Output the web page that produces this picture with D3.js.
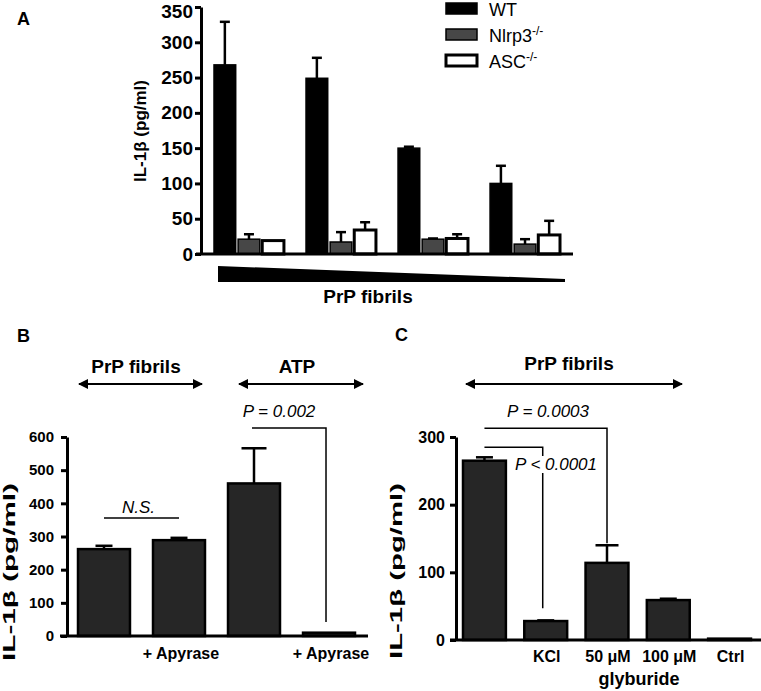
<!DOCTYPE html>
<html>
<head>
<meta charset="utf-8">
<script src="https://cdn.jsdelivr.net/npm/d3@7"></script>
<style>
  body { margin: 0; background: #fff; }
  svg { display: block; font-family: "Liberation Sans", Arial, sans-serif; }
</style>
</head>
<body>
<div id="chart"></div>
<script>
// ---- panel A: IL-1b by PrP fibril dose and genotype ----
const doses = ["d1", "d2", "d3", "d4"];
const genotypes = ["WT", "Nlrp3", "ASC"];
const wtMean = [268, 249, 150, 100];
const wtSem = [61, 29, 2, 25];
const nlrp3Mean = [21, 17, 21, 14];
const nlrp3Sem = [7, 14, 1, 7];
const ascMean = [19, 34, 22, 27];
const ascSem = [0, 11, 6, 20];
const ticksA = [0, 50, 100, 150, 200, 250, 300, 350];

// ---- panel B: apyrase ----
const labelsB = ["", "+ Apyrase", "", "+ Apyrase"];
const meanB = [262, 289, 460, 10];
const semB = [10, 7, 106, 0];
const ticksB = [0, 100, 200, 300, 400, 500, 600];

// ---- panel C: KCl / glyburide ----
const labelsC = ["", "KCl", "50 \u03bcM", "100 \u03bcM", "Ctrl"];
const meanC = [265, 28, 114, 59, 2];
const semC = [5, 1, 26, 2, 0];
const ticksC = [0, 100, 200, 300];

const svg = d3.select("#chart")
  .append("svg")
    .attr("width", 761)
    .attr("height", 691);

// arrowhead used by the "PrP fibrils" / "ATP" ranges
const defs = svg.append("defs");
defs.append("marker")
    .attr("id", "head")
    .attr("viewBox", "0 0 10 10")
    .attr("refX", 9).attr("refY", 5)
    .attr("markerWidth", 6).attr("markerHeight", 5)
    .attr("markerUnits", "strokeWidth")
    .attr("orient", "auto-start-reverse")
  .append("path")
    .attr("d", "M0,0 L10,5 L0,10 Z")
    .attr("fill", "#000");

const drawYAxis = (x, scale, ticks, size, pad) => {
  const g = svg.append("g")
      .attr("transform", `translate(${x},0)`)
      .call(d3.axisLeft(scale).tickValues(ticks).tickSize(6).tickSizeOuter(0).tickPadding(pad));
  g.select(".domain").attr("stroke", "#000").attr("stroke-width", 3);
  g.selectAll(".tick line").attr("stroke", "#000").attr("stroke-width", 3);
  g.selectAll(".tick text")
      .attr("fill", "#000")
      .style("font-size", size + "px")
      .style("font-weight", "bold");
  return g;
};

// rotated y label; len stretches the glyphs along the text (panels B, C are taller)
const yLabel = (x, y, len) => {
  const t = svg.append("text")
      .attr("text-anchor", "middle")
      .style("font-size", "17px")
      .style("font-weight", "bold")
      .text("IL-1\u03b2 (pg/ml)");
  const k = len ? len / t.node().getComputedTextLength() : 1;
  t.attr("transform", `translate(${x},${y}) rotate(-90) scale(${k},1)`);
  return t;
};

const boldText = (x, y, s, size, anchor = "middle") =>
  svg.append("text")
      .attr("x", x).attr("y", y)
      .attr("text-anchor", anchor)
      .style("font-size", size + "px")
      .style("font-weight", "bold")
      .text(s);

const italicText = (x, y, s) =>
  svg.append("text")
      .attr("x", x).attr("y", y)
      .attr("text-anchor", "middle")
      .style("font-size", "17px")
      .style("font-style", "italic")
      .text(s);

const rangeArrow = (x1, x2, y) =>
  svg.append("line")
      .attr("x1", x1).attr("x2", x2)
      .attr("y1", y).attr("y2", y)
      .attr("stroke", "#000")
      .attr("stroke-width", 2)
      .attr("marker-start", "url(#head)")
      .attr("marker-end", "url(#head)");

const errorBars = (sel, cap) => {
  sel.append("line")
      .attr("x1", d => d.cx).attr("x2", d => d.cx)
      .attr("y1", d => d.y(d.mean)).attr("y2", d => d.y(d.mean + d.sem))
      .attr("stroke", "#000").attr("stroke-width", 2.5);
  sel.append("line")
      .attr("x1", d => d.cx - cap(d) / 2).attr("x2", d => d.cx + cap(d) / 2)
      .attr("y1", d => d.y(d.mean + d.sem)).attr("y2", d => d.y(d.mean + d.sem))
      .attr("stroke", "#000").attr("stroke-width", 2.5);
};

// ================= A =================
const yA = d3.scaleLinear().domain([0, 350]).range([254, 7]);
const xA = d3.scaleBand().domain(doses).range([214, 560]).paddingInner(0.24);
const xSubA = d3.scaleBand().domain(genotypes).range([0, xA.bandwidth()]).paddingInner(0.1);
const fillA = { WT: "#000", Nlrp3: "#474747", ASC: "#fff" };
const seriesA = { WT: [wtMean, wtSem], Nlrp3: [nlrp3Mean, nlrp3Sem], ASC: [ascMean, ascSem] };

const rowsA = [];
doses.forEach((dose, i) => {
  genotypes.forEach(gt => {
    const x = xA(dose) + xSubA(gt);
    rowsA.push({ gt, x, cx: x + xSubA.bandwidth() / 2, mean: seriesA[gt][0][i], sem: seriesA[gt][1][i], y: yA });
  });
});

const gA = svg.append("g");
errorBars(gA.selectAll("g.eb").data(rowsA.filter(d => d.sem > 0)).join("g").attr("class", "eb"), () => 10);
gA.selectAll("rect.bar")
  .data(rowsA)
  .join("rect")
    .attr("class", "bar")
    .attr("x", d => d.x)
    .attr("y", d => yA(d.mean))
    .attr("width", xSubA.bandwidth())
    .attr("height", d => yA(0) - yA(d.mean))
    .attr("fill", d => fillA[d.gt])
    .attr("stroke", "#000")
    .attr("stroke-width", d => d.gt === "ASC" ? 3 : 1.5);

const axisA = drawYAxis(201, yA, ticksA, 19, 2);
// keep the top label inside the picture
axisA.selectAll(".tick text").filter(d => d === 350).attr("dy", "0.56em");
svg.append("line")
    .attr("x1", 196).attr("x2", xA.range()[1] + 13)
    .attr("y1", yA(0)).attr("y2", yA(0))
    .attr("stroke", "#000").attr("stroke-width", 3);

// decreasing-dose wedge
const wedgeTop = yA(0) + 12, wedgeBottom = yA(0) + 28;
svg.append("path")
    .attr("d", d3.line()([
      [xA.range()[0] + 4, wedgeTop],
      [xA.range()[1] + 5, wedgeBottom - 3],
      [xA.range()[1] + 5, wedgeBottom],
      [xA.range()[0] + 4, wedgeBottom]
    ]) + "Z")
    .attr("fill", "#000");
boldText(368, 303, "PrP fibrils", 19);
yLabel(146, 131);
boldText(17, 25, "A", 18, "start");

// legend
const legendY = d3.scalePoint().domain(genotypes).range([3, 55]);
const legendNames = { WT: ["WT", ""], Nlrp3: ["Nlrp3", "-/-"], ASC: ["ASC", "-/-"] };
const lg = svg.append("g").selectAll("g").data(genotypes).join("g")
    .attr("transform", d => `translate(446,${legendY(d)})`);
lg.append("rect")
    .attr("width", 31).attr("height", 11)
    .attr("fill", d => fillA[d])
    .attr("stroke", "#000")
    .attr("stroke-width", d => d === "ASC" ? 3 : 1.5);
const lt = lg.append("text")
    .attr("x", 43).attr("y", 13)
    .style("font-size", "18px");
lt.append("tspan").text(d => legendNames[d][0]);
lt.append("tspan")
    .attr("dy", -7)
    .style("font-size", "12px")
    .text(d => legendNames[d][1]);

// ================= B =================
const yB = d3.scaleLinear().domain([0, 600]).range([636, 437]);
const xB = d3.scaleBand().domain(d3.range(meanB.length)).range([78, 355]).paddingInner(0.307);
const rowsB = meanB.map((m, i) => ({ i, x: xB(i), cx: xB(i) + xB.bandwidth() / 2, mean: m, sem: semB[i], y: yB }));

const gB = svg.append("g");
errorBars(gB.selectAll("g.eb").data(rowsB.filter(d => d.sem > 0)).join("g").attr("class", "eb"), d => d.sem > 50 ? 25 : 17);
gB.selectAll("rect")
  .data(rowsB)
  .join("rect")
    .attr("x", d => d.x)
    .attr("y", d => yB(d.mean))
    .attr("width", xB.bandwidth())
    .attr("height", d => yB(0) - yB(d.mean))
    .attr("fill", "#262626")
    .attr("stroke", "#000")
    .attr("stroke-width", 2.5);

drawYAxis(67, yB, ticksB, 15, 7);
svg.append("line")
    .attr("x1", 60).attr("x2", 368)
    .attr("y1", yB(0)).attr("y2", yB(0))
    .attr("stroke", "#000").attr("stroke-width", 3);

svg.append("g").selectAll("text").data(rowsB).join("text")
    .attr("x", d => d.cx + 2)
    .attr("y", 659)
    .attr("text-anchor", "middle")
    .style("font-size", "16px")
    .style("font-weight", "bold")
    .text(d => labelsB[d.i]);

// N.S. bar between the two fibril bars
svg.append("line")
    .attr("x1", rowsB[0].cx).attr("x2", rowsB[1].cx)
    .attr("y1", yB(356)).attr("y2", yB(356))
    .attr("stroke", "#000").attr("stroke-width", 1.5);
italicText((rowsB[0].cx + rowsB[1].cx) / 2 - 3, yB(356) - 5, "N.S.");

// P = 0.002 bracket
svg.append("path")
    .attr("d", d3.line()([
      [rowsB[2].cx - 2, yB(627)],
      [rowsB[3].cx - 3, yB(627)],
      [rowsB[3].cx - 3, yB(42)]
    ]))
    .attr("fill", "none")
    .attr("stroke", "#000").attr("stroke-width", 1.5);
italicText(279, 417, "P = 0.002");

boldText(136, 373, "PrP fibrils", 19);
boldText(297, 373, "ATP", 19);
rangeArrow(79, 202, 384);
rangeArrow(239, 363, 384);
yLabel(15, 572, 178);
boldText(17, 342, "B", 18, "start");

// ================= C =================
const yC = d3.scaleLinear().domain([0, 300]).range([640, 437]);
const xC = d3.scaleBand().domain(d3.range(meanC.length)).range([463, 751]).paddingInner(0.3);
const rowsC = meanC.map((m, i) => ({ i, x: xC(i), cx: xC(i) + xC.bandwidth() / 2, mean: m, sem: semC[i], y: yC }));

const gC = svg.append("g");
errorBars(gC.selectAll("g.eb").data(rowsC.filter(d => d.sem > 0)).join("g").attr("class", "eb"), d => d.sem > 10 ? 23 : 17);
gC.selectAll("rect")
  .data(rowsC)
  .join("rect")
    .attr("x", d => d.x)
    .attr("y", d => yC(d.mean))
    .attr("width", xC.bandwidth())
    .attr("height", d => yC(0) - yC(d.mean))
    .attr("fill", "#262626")
    .attr("stroke", "#000")
    .attr("stroke-width", 2.5);

drawYAxis(456, yC, ticksC, 16, 5);
svg.append("line")
    .attr("x1", 450).attr("x2", 761)
    .attr("y1", yC(0)).attr("y2", yC(0))
    .attr("stroke", "#000").attr("stroke-width", 3);

svg.append("g").selectAll("text").data(rowsC).join("text")
    .attr("x", d => d.cx + 1)
    .attr("y", 662)
    .attr("text-anchor", "middle")
    .style("font-size", "16px")
    .style("font-weight", "bold")
    .text(d => labelsC[d.i]);
boldText(639, 685, "glyburide", 18);

// P = 0.0003 bracket (control vs 50 uM)
svg.append("path")
    .attr("d", d3.line()([
      [rowsC[0].cx, yC(313)],
      [rowsC[2].cx, yC(313)],
      [rowsC[2].cx, yC(143)]
    ]))
    .attr("fill", "none")
    .attr("stroke", "#000").attr("stroke-width", 1.5);
italicText(548, 417, "P = 0.0003");

// P < 0.0001 bracket (control vs KCl), label sits over the line
svg.append("path")
    .attr("d", d3.line()([
      [rowsC[0].cx, yC(285)],
      [rowsC[1].cx - 3, yC(285)],
      [rowsC[1].cx - 3, yC(47)]
    ]))
    .attr("fill", "none")
    .attr("stroke", "#000").attr("stroke-width", 1.5);
const pLess = italicText(556, 470, "P < 0.0001");
const bb = pLess.node().getBBox();
svg.insert("rect", () => pLess.node())
    .attr("x", bb.x + 14).attr("y", bb.y + 1)
    .attr("width", bb.width - 14).attr("height", bb.height - 2)
    .attr("fill", "#fff");

boldText(569, 370, "PrP fibrils", 19);
rangeArrow(466, 682, 384);
yLabel(402, 571, 176);
boldText(395, 341, "C", 18, "start");
</script>
</body>
</html>
